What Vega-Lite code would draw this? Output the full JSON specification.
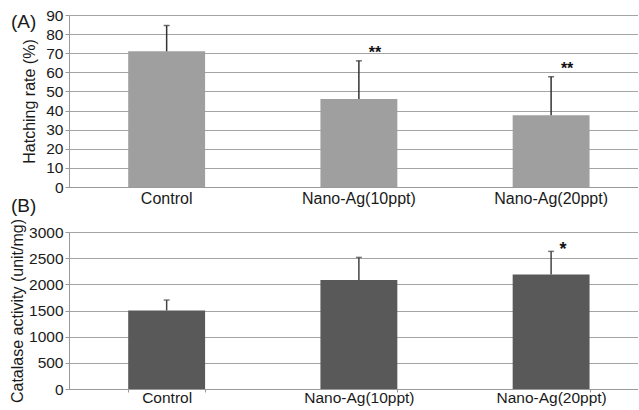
{
  "$schema": "https://vega.github.io/schema/vega-lite/v6.json",
  "background": "white",
  "padding": {"left": 9, "top": 8, "right": 0, "bottom": 0},
  "config": {
    "view": {"stroke": null},
    "font": "Liberation Sans",
    "axis": {
      "labelFont": "Liberation Sans",
      "titleFont": "Liberation Sans",
      "labelColor": "#1a1a1a",
      "titleColor": "#1a1a1a",
      "domainColor": "#999999",
      "tickColor": "#999999",
      "gridColor": "#a4a4a4",
      "gridOpacity": 1
    },
    "axisY": {
      "titleFontSize": 16,
      "titleFontWeight": "normal",
      "labelFontSize": 15.5,
      "labelPadding": 2,
      "labelOverlap": false,
      "labelBound": false,
      "tickSize": 4,
      "format": "d",
      "grid": true
    }
  },
  "datasets": {
    "hatching": [
      {"group": "Control", "rate": 71, "upper": 84.5, "sig": ""},
      {"group": "Nano-Ag(10ppt)", "rate": 46, "upper": 66, "sig": "**"},
      {"group": "Nano-Ag(20ppt)", "rate": 37.5, "upper": 57.7, "sig": "**"}
    ],
    "catalase": [
      {"group": "Control", "activity": 1500, "upper": 1700, "sig": ""},
      {"group": "Nano-Ag(10ppt)", "activity": 2085, "upper": 2515, "sig": ""},
      {"group": "Nano-Ag(20ppt)", "activity": 2190, "upper": 2630, "sig": "*"}
    ]
  },
  "bounds": "flush",
  "spacing": 45,
  "vconcat": [
    {
      "width": 569,
      "height": 172,
      "title": {
        "text": "(A)",
        "anchor": "start",
        "frame": "group",
        "fontSize": 19,
        "fontWeight": "normal",
        "font": "Liberation Sans",
        "color": "#1a1a1a",
        "dx": -58,
        "dy": 24,
        "offset": 0
      },
      "data": {"name": "hatching"},
      "encoding": {
        "x": {
          "field": "group",
          "type": "nominal",
          "sort": null,
          "scale": {"paddingInner": 0.6, "paddingOuter": 0.28, "align": 0.55},
          "axis": {
            "title": null,
            "labelAngle": 0,
            "labelFontSize": 16,
            "labelPadding": 3,
            "ticks": false,
            "domain": true
          }
        }
      },
      "layer": [
        {
          "mark": {"type": "bar", "color": "#9f9f9f"},
          "encoding": {
            "y": {
              "field": "rate",
              "type": "quantitative",
              "scale": {"domain": [0, 90], "nice": false},
              "axis": {"title": "Hatching rate (%)", "titlePadding": 8, "values": [0, 10, 20, 30, 40, 50, 60, 70, 80, 90]}
            }
          }
        },
        {
          "mark": {"type": "rule", "color": "#333333", "strokeWidth": 1.5},
          "encoding": {
            "y": {
              "field": "rate",
              "type": "quantitative",
              "axis": {"title": "Hatching rate (%)", "titlePadding": 8, "values": [0, 10, 20, 30, 40, 50, 60, 70, 80, 90]}
            },
            "y2": {"field": "upper"}
          }
        },
        {
          "mark": {"type": "tick", "color": "#333333", "size": 6, "thickness": 1.5},
          "encoding": {
            "y": {
              "field": "upper",
              "type": "quantitative",
              "axis": {"title": "Hatching rate (%)", "titlePadding": 8, "values": [0, 10, 20, 30, 40, 50, 60, 70, 80, 90]}
            }
          }
        },
        {
          "mark": {"type": "text", "fontSize": 16, "fontWeight": "bold", "color": "#111111", "baseline": "middle", "dx": 16, "dy": -8},
          "encoding": {
            "y": {
              "field": "upper",
              "type": "quantitative",
              "axis": {"title": "Hatching rate (%)", "titlePadding": 8, "values": [0, 10, 20, 30, 40, 50, 60, 70, 80, 90]}
            },
            "text": {"field": "sig"}
          }
        }
      ]
    },
    {
      "width": 569,
      "height": 157,
      "title": {
        "text": "(B)",
        "anchor": "start",
        "frame": "group",
        "fontSize": 19,
        "fontWeight": "normal",
        "font": "Liberation Sans",
        "color": "#1a1a1a",
        "dx": -58,
        "offset": 2
      },
      "data": {"name": "catalase"},
      "encoding": {
        "x": {
          "field": "group",
          "type": "nominal",
          "sort": null,
          "scale": {"paddingInner": 0.6, "paddingOuter": 0.28, "align": 0.55},
          "axis": {
            "title": null,
            "labelAngle": 0,
            "labelFontSize": 15.5,
            "labelPadding": -2,
            "ticks": true,
            "tickBand": "extent",
            "tickSize": 3,
            "domain": true
          }
        }
      },
      "layer": [
        {
          "mark": {"type": "bar", "color": "#595959"},
          "encoding": {
            "y": {
              "field": "activity",
              "type": "quantitative",
              "scale": {"domain": [0, 3000], "nice": false},
              "axis": {"title": "Catalase activity (unit/mg)", "titlePadding": 3, "values": [0, 500, 1000, 1500, 2000, 2500, 3000]}
            }
          }
        },
        {
          "mark": {"type": "rule", "color": "#444444", "strokeWidth": 1.5},
          "encoding": {
            "y": {
              "field": "activity",
              "type": "quantitative",
              "axis": {"title": "Catalase activity (unit/mg)", "titlePadding": 3, "values": [0, 500, 1000, 1500, 2000, 2500, 3000]}
            },
            "y2": {"field": "upper"}
          }
        },
        {
          "mark": {"type": "tick", "color": "#444444", "size": 6, "thickness": 1.5},
          "encoding": {
            "y": {
              "field": "upper",
              "type": "quantitative",
              "axis": {"title": "Catalase activity (unit/mg)", "titlePadding": 3, "values": [0, 500, 1000, 1500, 2000, 2500, 3000]}
            }
          }
        },
        {
          "mark": {"type": "text", "fontSize": 18, "fontWeight": "bold", "color": "#111111", "baseline": "middle", "dx": 12, "dy": -1},
          "encoding": {
            "y": {
              "field": "upper",
              "type": "quantitative",
              "axis": {"title": "Catalase activity (unit/mg)", "titlePadding": 3, "values": [0, 500, 1000, 1500, 2000, 2500, 3000]}
            },
            "text": {"field": "sig"}
          }
        }
      ]
    }
  ]
}
